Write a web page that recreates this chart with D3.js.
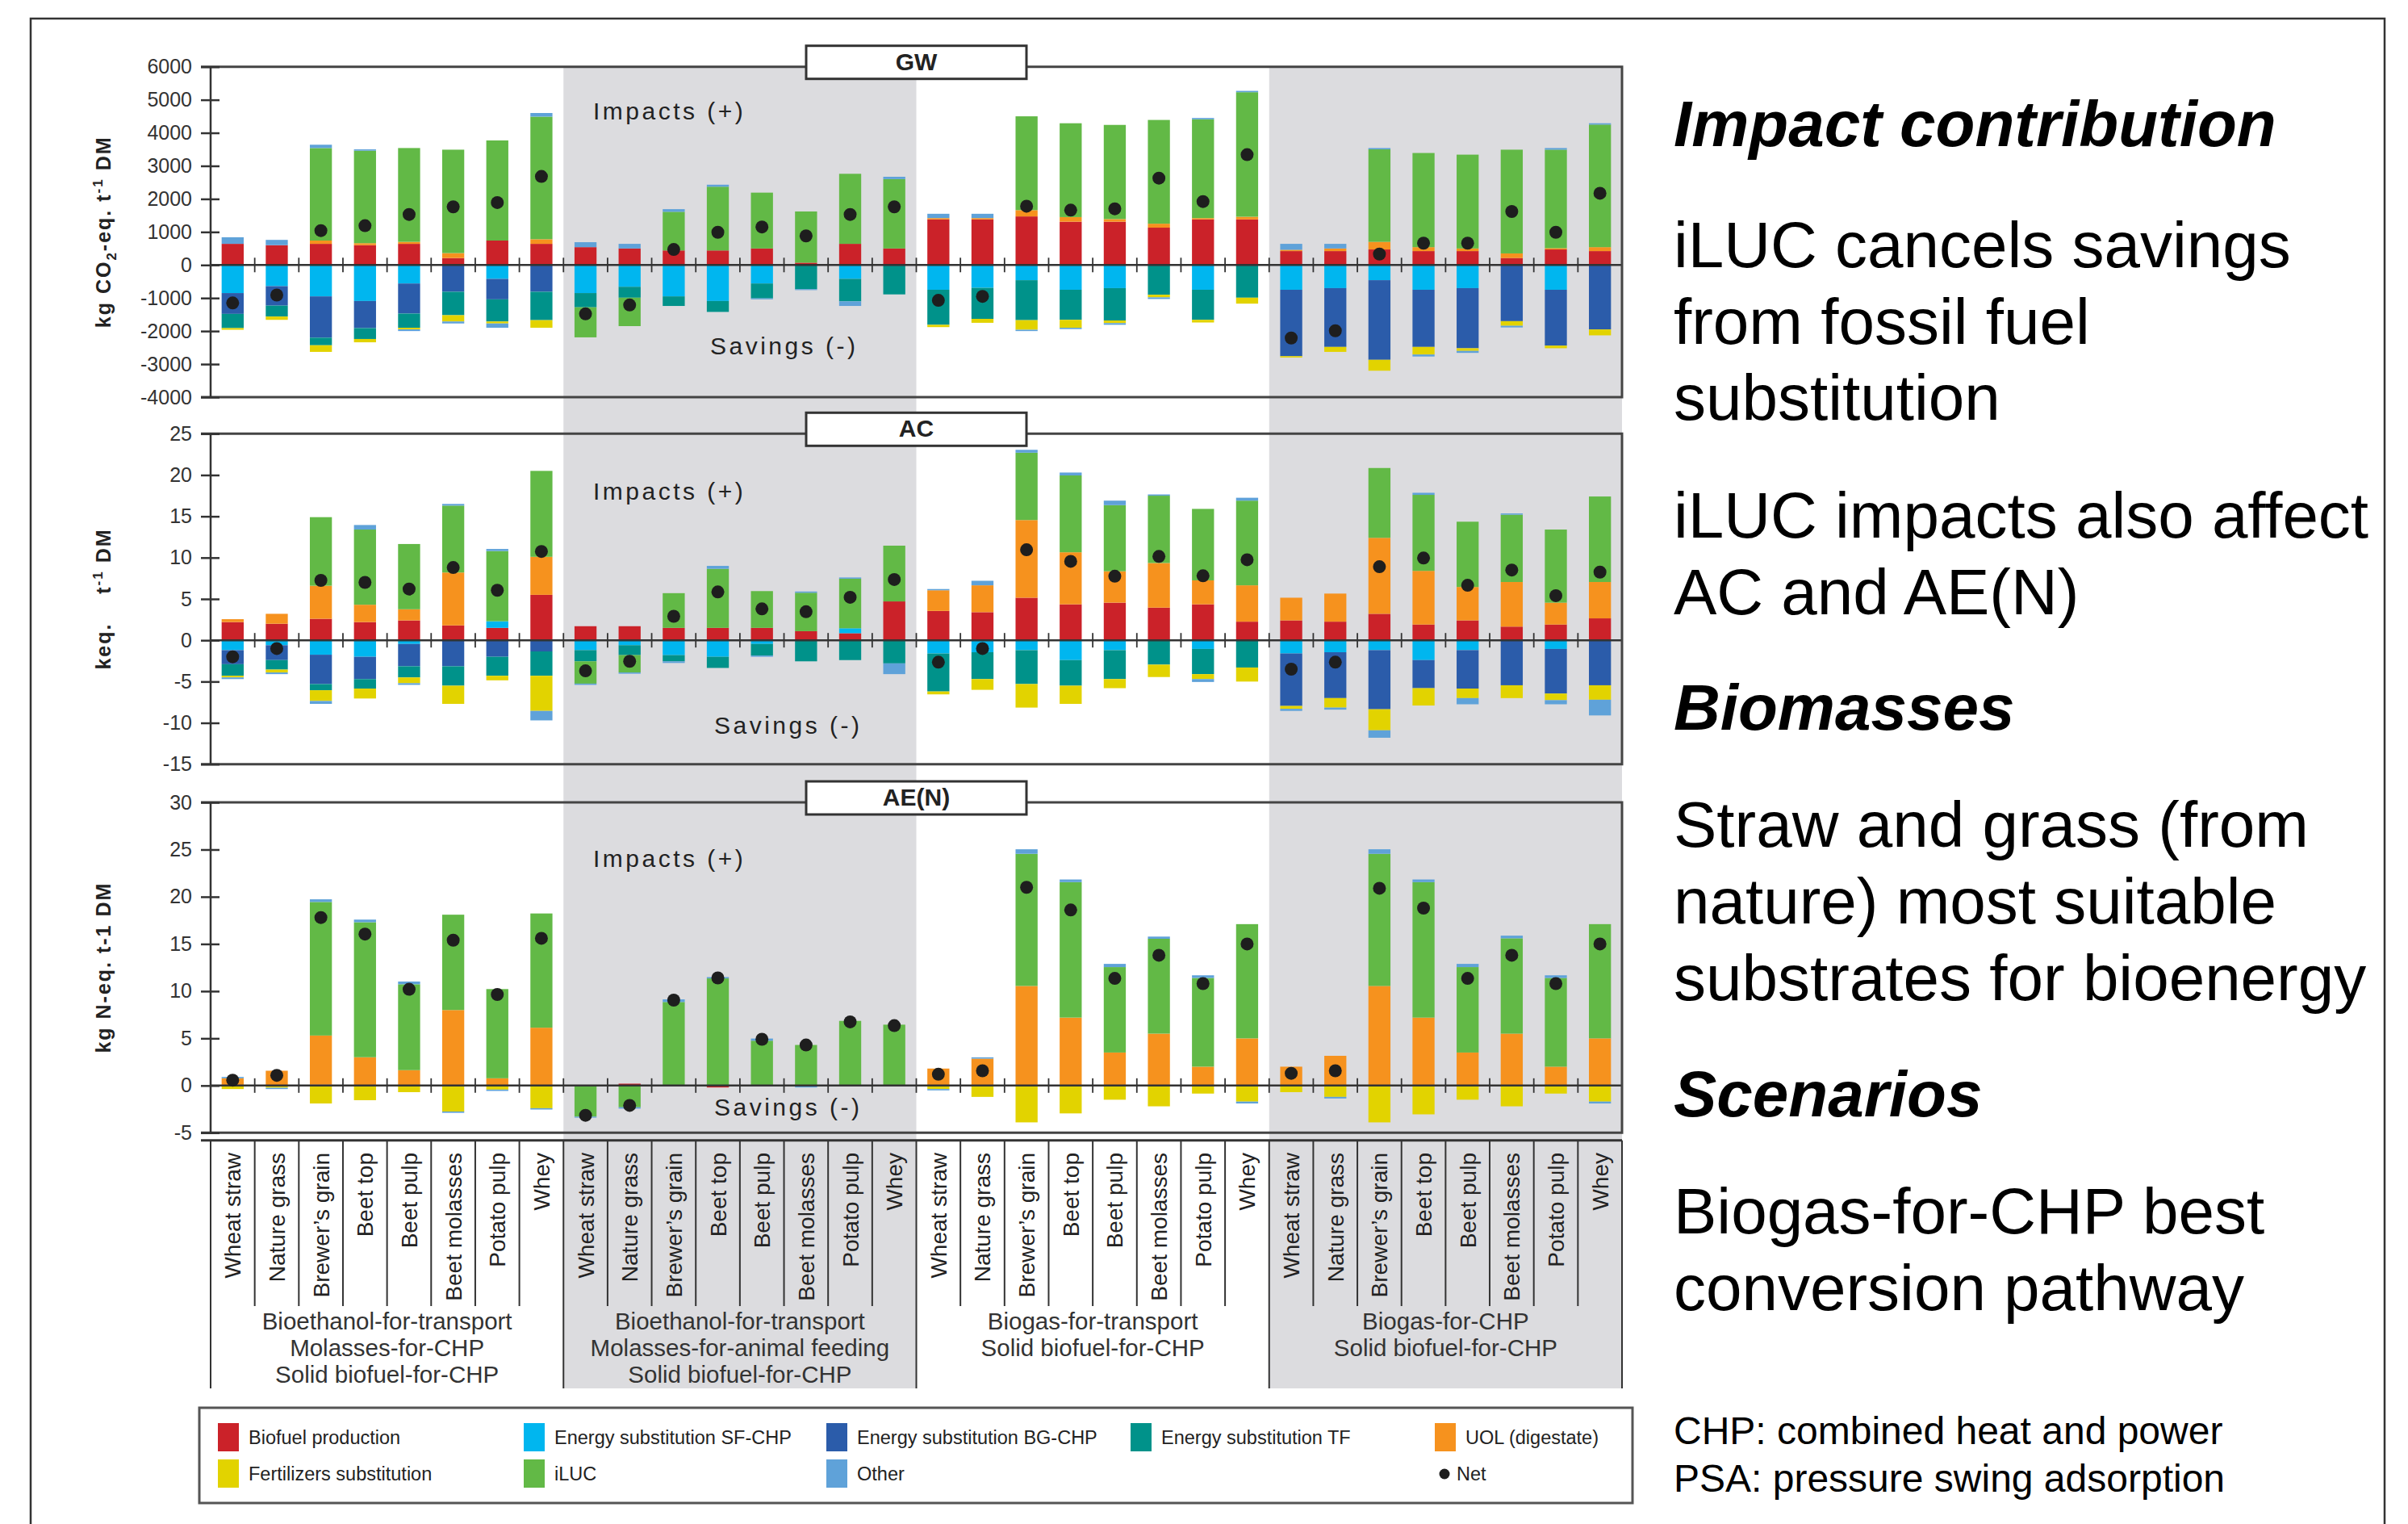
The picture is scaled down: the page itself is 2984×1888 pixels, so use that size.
<!DOCTYPE html>
<html>
<head>
<meta charset="utf-8">
<script src="https://cdn.jsdelivr.net/npm/d3@7"></script>
<style>
  body { margin: 0; background: #fff; }
  svg { display: block; }
  text { font-family: "Liberation Sans", Arial, sans-serif; }
</style>
</head>
<body>
<div id="chart"></div>
<script>
// ---- data ----
const biomasses = ["Wheat straw", "Nature grass", "Brewer\u2019s grain", "Beet top", "Beet pulp", "Beet molasses", "Potato pulp", "Whey"];
const scenarios = [
  ["Bioethanol-for-transport", "Molasses-for-CHP", "Solid biofuel-for-CHP"],
  ["Bioethanol-for-transport", "Molasses-for-animal feeding", "Solid biofuel-for-CHP"],
  ["Biogas-for-transport", "Solid biofuel-for-CHP"],
  ["Biogas-for-CHP", "Solid biofuel-for-CHP"]
];
const seriesKeys = ["biofuel", "sf", "bg", "tf", "uol", "fert", "iluc", "other"];
const seriesNames = ["Biofuel production", "Energy substitution SF-CHP", "Energy substitution BG-CHP", "Energy substitution TF", "UOL (digestate)", "Fertilizers substitution", "iLUC", "Other"];
const seriesColors = ["#cb2229", "#00b6ef", "#2b5caa", "#00928a", "#f6921e", "#e2d300", "#62b946", "#5fa2d9"];

// GW, kg CO2-eq. per t DM
const gwBiofuel = [640,600,640,600,640,210,740,640, 540,500,440,440,500,70,640,500, 1380,1380,1470,1310,1310,1130,1380,1380, 420,420,470,420,420,210,470,420];
const gwSF      = [-850,-640,-950,-1090,-560,0,-420,0, -850,-660,-950,-1090,-560,0,-420,0, -750,-690,-460,-750,-700,0,-750,0, -750,-700,-460,-750,-700,0,-750,0];
const gwBG      = [-630,-590,-1250,-820,-910,-810,-620,-810, 0,0,0,0,0,0,0,0, 0,0,0,0,0,0,0,0, -2010,-1780,-2410,-1730,-1820,-1700,-1690,-1950];
const gwTF      = [-430,-330,-230,-330,-430,-710,-670,-860, -430,-330,-290,-330,-450,-730,-680,-890, -1060,-940,-1210,-910,-980,-900,-910,-990, 0,0,0,0,0,0,0,0];
const gwUOL     = [0,0,100,60,60,150,0,140, 0,0,0,0,0,0,0,0, 40,40,190,140,80,120,40,80, 40,80,230,120,80,140,40,120];
const gwFert    = [-50,-100,-200,-100,-50,-190,-60,-230, 0,0,0,0,0,0,0,0, -70,-120,-290,-240,-80,-80,-80,-180, -40,-150,-330,-230,-80,-140,-80,-180];
const gwILUC    = [0,0,2800,2800,2840,3130,3030,3710, -910,-860,1170,1930,1690,1550,2120,2100, 0,0,2840,2840,2850,3140,2990,3770, 0,0,2800,2850,2840,3140,2980,3710];
const gwOther   = [200,160,100,40,-50,-60,-130,110, 150,140,80,60,-30,-30,-140,70, 130,130,-40,-40,-50,-50,40,40, 180,140,40,-60,-60,-50,50,40];
const gwNet     = [-1150,-910,1040,1190,1530,1760,1890,2680, -1480,-1210,470,990,1150,880,1530,1760, -1070,-950,1780,1660,1700,2630,1920,3340, -2210,-1990,330,660,660,1620,990,2170];

// AC, keq. per t DM
const acBiofuel = [2.2,2.0,2.6,2.2,2.4,1.8,1.5,5.5, 1.7,1.7,1.5,1.5,1.5,1.1,0.85,4.7, 3.55,3.4,5.15,4.35,4.55,3.95,4.35,2.25, 2.4,2.25,3.2,1.9,2.4,1.65,1.9,2.65];
const acSF      = [-1.2,-0.6,-1.75,-2.0,-0.45,0,0.8,0, -1.2,-0.6,-1.8,-2.0,-0.45,0,0.6,0, -1.6,-1.45,-1.2,-2.4,-1.2,0,-1.05,0, -1.6,-1.45,-1.2,-2.4,-1.2,0,-1.05,0];
const acBG      = [-1.7,-1.8,-3.55,-2.7,-2.7,-3.15,-2.0,-1.35, 0,0,0,0,0,0,0,0, 0,0,0,0,0,0,0,0, -6.35,-5.55,-7.15,-3.4,-4.65,-5.45,-5.4,-5.45];
const acTF      = [-1.4,-1.15,-0.75,-1.15,-1.35,-2.35,-2.3,-2.95, -1.35,-1.2,-0.75,-1.35,-1.4,-2.55,-2.4,-2.8, -4.6,-3.25,-4.1,-3.1,-3.5,-2.95,-3.05,-3.3, 0,0,0,0,0,0,0,0];
const acUOL     = [0.35,1.2,4.0,2.1,1.35,6.4,0,4.6, 0,0,0,0,0,0,0,0, 2.5,3.25,9.4,6.3,3.8,5.4,2.9,4.4, 2.75,3.4,9.2,6.5,4.05,5.4,2.65,4.4];
const acFert    = [-0.2,-0.35,-1.3,-1.2,-0.7,-2.2,-0.55,-4.25, 0,0,0,0,0,0,0,0, -0.35,-1.3,-2.85,-2.2,-1.1,-1.5,-0.6,-1.7, -0.35,-1.15,-2.55,-2.1,-1.15,-1.55,-0.8,-1.75];
const acILUC    = [0,0,8.3,9.1,7.9,8.1,8.5,10.4, -2.7,-2.1,4.2,7.15,4.45,4.65,6.0,6.75, 0,0,8.15,9.3,8.0,8.15,8.65,10.25, 0,0,8.45,9.2,7.9,8.15,8.85,10.35];
const acOther   = [-0.2,-0.2,-0.35,0.55,-0.2,0.2,0.25,-1.15, -0.15,-0.15,-0.2,0.35,-0.15,0.15,0.15,-1.3, 0.15,0.55,0.35,0.35,0.55,0.15,-0.35,0.35, -0.25,-0.25,-0.9,0.25,-0.75,0.15,-0.5,-1.9];
const acNet     = [-2.0,-1.0,7.25,7.0,6.2,8.8,6.05,10.75, -3.7,-2.55,2.9,5.85,3.8,3.45,5.2,7.35, -2.65,-1.0,10.95,9.55,7.75,10.15,7.8,9.75, -3.5,-2.65,8.9,9.95,6.65,8.5,5.4,8.25];

// AE(N), kg N-eq. per t DM
const aeBiofuel = [0,0,0.1,0,0,0,0,0, 0,0.2,0,-0.2,0,0,0,0, 0,0,0,0,0,0,0,0, 0,0,0,0,0,0,0,0];
const aeUOL     = [0.77,1.57,5.2,3.0,1.63,8.0,0.77,6.13, 0,0,0,0,0,0,0,0, 1.8,2.85,10.55,7.2,3.5,5.5,2.0,5.0, 2.0,3.15,10.55,7.2,3.5,5.5,2.0,5.0];
const aeFert    = [-0.37,-0.23,-1.9,-1.55,-0.7,-2.75,-0.43,-2.4, 0,0,0,0,0,0,0,0, -0.37,-1.2,-3.9,-2.95,-1.5,-2.2,-0.85,-1.7, -0.7,-1.2,-3.9,-3.05,-1.5,-2.2,-0.85,-1.7];
const aeILUC    = [0,0,14.15,14.3,9.1,10.1,9.45,12.1, -3.3,-2.3,8.85,11.35,4.75,4.3,6.85,6.45, 0,0,14.0,14.35,9.05,10.05,9.4,12.1, 0,0,14.0,14.35,9.05,10.1,9.4,12.1];
const aeOther   = [0.14,-0.14,0.28,0.28,0.29,-0.14,-0.14,-0.14, -0.1,-0.14,0.28,0.14,0.23,-0.2,0,0, -0.14,0.14,0.48,0.28,0.34,0.23,0.28,-0.2, 0,-0.17,0.48,0.28,0.34,0.28,0.28,-0.2];
const aeNet     = [0.57,1.08,17.8,16.05,10.2,15.4,9.65,15.6, -3.15,-2.1,9.05,11.4,4.9,4.3,6.75,6.35, 1.2,1.57,21.0,18.6,11.35,13.8,10.8,15.0, 1.3,1.57,20.9,18.8,11.35,13.8,10.8,15.0];

const gwTicks = [-4000,-3000,-2000,-1000,0,1000,2000,3000,4000,5000,6000];
const acTicks = [-15,-10,-5,0,5,10,15,20,25];
const aeTicks = [-5,0,5,10,15,20,25,30];

const sideText = [
  ["Impact contribution", true], ["iLUC cancels savings", false], ["from fossil fuel", false], ["substitution", false],
  ["iLUC impacts also affect", false], ["AC and AE(N)", false], ["Biomasses", true],
  ["Straw and grass (from", false], ["nature) most suitable", false], ["substrates for bioenergy", false],
  ["Scenarios", true], ["Biogas-for-CHP best", false], ["conversion pathway", false]
];
const footnotes = ["CHP: combined heat and power", "PSA: pressure swing adsorption"];

// ---- layout ----
const W = 2984, H = 1888;
const X0 = 261, X1 = 2010;
const GRAY_TOP = 82.7, GRAY_BOTTOM = 1720;
const ink = "#333";

const panels = [
  { title: "GW", ticks: gwTicks, top: 82.7, bottom: 492, impactsY: 4400, savingsY: -2700, savingsX: 880,
    ylabel: [{t: "kg CO"}, {t: "2", dy: 7, fs: 17}, {t: "-eq. t", dy: -7}, {t: "-1", dy: -10, fs: 17}, {t: " DM", dy: 10}],
    series: {biofuel: gwBiofuel, sf: gwSF, bg: gwBG, tf: gwTF, uol: gwUOL, fert: gwFert, iluc: gwILUC, other: gwOther}, net: gwNet },
  { title: "AC", ticks: acTicks, top: 537.3, bottom: 946.7, impactsY: 17, savingsY: -11.3, savingsX: 885,
    ylabel: [{t: "keq.\u00a0\u00a0\u00a0\u00a0t"}, {t: "-1", dy: -10, fs: 17}, {t: " DM", dy: 10}],
    series: {biofuel: acBiofuel, sf: acSF, bg: acBG, tf: acTF, uol: acUOL, fert: acFert, iluc: acILUC, other: acOther}, net: acNet },
  { title: "AE(N)", ticks: aeTicks, top: 994, bottom: 1403.3, impactsY: 23.2, savingsY: -3.2, savingsX: 885,
    ylabel: [{t: "kg N-eq. t-1 DM"}],
    series: {biofuel: aeBiofuel, uol: aeUOL, fert: aeFert, iluc: aeILUC, other: aeOther}, net: aeNet }
];

const svg = d3.select("#chart").append("svg").attr("width", W).attr("height", H);

// slide frame
svg.append("path").attr("d", `M38,${H} V23 H2955 V${H}`).attr("fill", "none").attr("stroke", ink).attr("stroke-width", 2.5);

const n = scenarios.length * biomasses.length;
const x = d3.scaleBand().domain(d3.range(n)).range([X0, X1]).paddingInner(0.5).paddingOuter(0.25);
const step = x.step();

// shaded scenario groups
[1, 3].forEach(g => {
  svg.append("rect").attr("x", X0 + g * 8 * step).attr("y", GRAY_TOP)
    .attr("width", 8 * step).attr("height", GRAY_BOTTOM - GRAY_TOP).attr("fill", "#dcdcdf");
});

const colorOf = d3.scaleOrdinal().domain(seriesKeys).range(seriesColors);

panels.forEach(p => {
  const y = d3.scaleLinear().domain([p.ticks[0], p.ticks[p.ticks.length - 1]]).range([p.bottom, p.top]);
  const g = svg.append("g");
  const keys = seriesKeys.filter(k => p.series[k]);
  const rows = d3.range(n).map(i => {
    const r = {i: i};
    keys.forEach(k => { r[k] = p.series[k][i]; });
    return r;
  });
  const stacked = d3.stack().keys(keys).offset(d3.stackOffsetDiverging)(rows);

  stacked.forEach(layer => {
    g.append("g").attr("fill", colorOf(layer.key))
      .selectAll("rect").data(layer.filter(d => d[1] !== d[0])).join("rect")
      .attr("x", d => x(d.data.i)).attr("width", x.bandwidth())
      .attr("y", d => y(Math.max(d[0], d[1])))
      .attr("height", d => Math.abs(y(d[0]) - y(d[1])));
  });

  // zero line with band separators
  g.append("line").attr("x1", X0).attr("x2", X1).attr("y1", y(0)).attr("y2", y(0))
    .attr("stroke", ink).attr("stroke-width", 2.5);
  g.selectAll("line.sep").data(d3.range(1, n)).join("line").attr("class", "sep")
    .attr("x1", i => X0 + i * step).attr("x2", i => X0 + i * step)
    .attr("y1", y(0) - 9).attr("y2", y(0) + 9).attr("stroke", ink).attr("stroke-width", 1.8);

  // net dots
  g.selectAll("circle").data(p.net).join("circle")
    .attr("cx", (d, i) => x(i) + x.bandwidth() / 2).attr("cy", d => y(d)).attr("r", 8).attr("fill", "#1e1e1e");

  // frame
  g.append("path").attr("d", `M249,${p.top} H${X1} V${p.bottom} H249`)
    .attr("fill", "none").attr("stroke", "#444").attr("stroke-width", 3);

  // y axis
  const ax = g.append("g").attr("transform", `translate(${X0},0)`)
    .call(d3.axisLeft(y).tickValues(p.ticks).tickSize(12).tickFormat(d => String(d)));
  ax.select(".domain").attr("stroke", ink).attr("stroke-width", 2.5).attr("d", `M0,${p.top}V${p.bottom}`);
  ax.selectAll(".tick line").attr("x1", -12).attr("x2", 11).attr("stroke", ink).attr("stroke-width", 2.5);
  ax.selectAll(".tick text").attr("x", -23).attr("fill", ink)
    .style("font-family", "'Liberation Sans', Arial, sans-serif").style("font-size", "25px");

  // y title
  const yt = g.append("text")
    .attr("transform", `translate(137,${(p.top + p.bottom) / 2}) rotate(-90)`)
    .attr("text-anchor", "middle").attr("font-weight", "bold").attr("font-size", 25)
    .attr("letter-spacing", 2).attr("fill", "#222");
  p.ylabel.forEach(part => {
    yt.append("tspan").attr("dy", part.dy || 0).attr("font-size", part.fs || null).text(part.t);
  });

  // impacts / savings
  g.append("text").attr("x", 735).attr("y", y(p.impactsY)).attr("font-size", 30)
    .attr("letter-spacing", 3.5).attr("fill", "#222").text("Impacts (+)");
  g.append("text").attr("x", p.savingsX).attr("y", y(p.savingsY)).attr("font-size", 30)
    .attr("letter-spacing", 3.5).attr("fill", "#222").text("Savings (-)");

  // title box
  const cx = (X0 + X1) / 2;
  g.append("rect").attr("x", cx - 136.5).attr("y", p.top - 26).attr("width", 273).attr("height", 41)
    .attr("fill", "#fff").attr("stroke", ink).attr("stroke-width", 3);
  g.append("text").attr("x", cx).attr("y", p.top + 4).attr("text-anchor", "middle")
    .attr("font-weight", "bold").attr("font-size", 30).attr("fill", "#222").text(p.title);
});

// category table
const TAB_TOP = 1412.7, TAB_MID = 1618;
const tab = svg.append("g").attr("stroke", ink).attr("stroke-width", 2);
tab.append("line").attr("x1", 249).attr("x2", X1).attr("y1", TAB_TOP).attr("y2", TAB_TOP).attr("stroke-width", 3);
tab.selectAll("line.v").data(d3.range(n + 1)).join("line").attr("class", "v")
  .attr("x1", i => X0 + i * step).attr("x2", i => X0 + i * step)
  .attr("y1", TAB_TOP).attr("y2", i => (i % 8 === 0 ? GRAY_BOTTOM : TAB_MID));

svg.append("g").selectAll("text").data(d3.range(n)).join("text")
  .attr("transform", i => `translate(${x(i) + x.bandwidth() / 2 + 10},1428) rotate(-90)`)
  .attr("text-anchor", "end").attr("font-size", 28).attr("fill", "#222")
  .text(i => biomasses[i % biomasses.length]);

scenarios.forEach((lines, gi) => {
  const cx = X0 + (gi * 8 + 4) * step;
  lines.forEach((ln, li) => {
    svg.append("text").attr("x", cx).attr("y", 1647 + li * 33).attr("text-anchor", "middle")
      .attr("font-size", 29.5).attr("fill", "#333").text(ln);
  });
});

// legend
svg.append("rect").attr("x", 247).attr("y", 1744).attr("width", 1776).attr("height", 118)
  .attr("fill", "#fff").attr("stroke", "#555").attr("stroke-width", 3);
const legendCols = [270, 649, 1024, 1401, 1778];
const legendSlots = [[0, 0], [1, 0], [2, 0], [3, 0], [4, 0], [0, 1], [1, 1], [2, 1]];
seriesNames.forEach((name, si) => {
  const [c, r] = legendSlots[si];
  const lx = legendCols[c], ly = 1763 + r * 45;
  svg.append("rect").attr("x", lx).attr("y", ly).attr("width", 26).attr("height", 35).attr("fill", seriesColors[si]);
  svg.append("text").attr("x", lx + 38).attr("y", ly + 26).attr("font-size", 23.5).attr("fill", "#222").text(name);
});
svg.append("circle").attr("cx", 1790).attr("cy", 1826).attr("r", 6.5).attr("fill", "#1e1e1e");
svg.append("text").attr("x", 1805).attr("y", 1834).attr("font-size", 23.5).attr("fill", "#222").text("Net");

// side text
const sideBase = [181, 331, 426, 520, 666, 761, 904, 1049, 1144, 1239, 1383, 1528, 1623];
sideText.forEach(([t, head], i) => {
  svg.append("text").attr("x", 2074).attr("y", sideBase[i]).attr("font-size", 80)
    .attr("font-weight", head ? "bold" : "normal").attr("font-style", head ? "italic" : "normal")
    .attr("fill", "#000").text(t);
});
footnotes.forEach((t, i) => {
  svg.append("text").attr("x", 2074).attr("y", 1789 + i * 59).attr("font-size", 48).attr("fill", "#000").text(t);
});
</script>
</body>
</html>
